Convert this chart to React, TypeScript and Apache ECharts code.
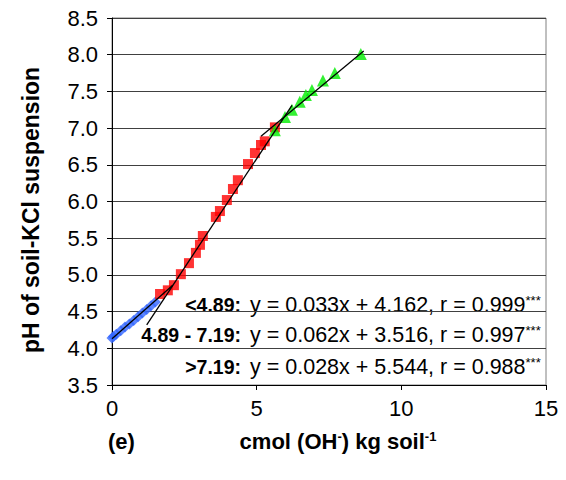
import React, { useEffect, useRef } from "react";
import * as echarts from "echarts";

// Data points: [cmol (OH-) kg soil^-1, pH]
const bluePoints: number[][] = [
  [0, 4.14], [0.05, 4.16], [0.15, 4.19], [0.3, 4.24], [0.45, 4.29], [0.6, 4.33],
  [0.75, 4.38], [0.9, 4.43], [1.05, 4.48], [1.2, 4.53], [1.35, 4.58], [1.5, 4.63],
];
const redPoints: number[][] = [
  [1.66, 4.74], [1.93, 4.79], [2.14, 4.86], [2.38, 5.01], [2.66, 5.16], [2.9, 5.3],
  [3.04, 5.41], [3.14, 5.53], [3.59, 5.79], [3.73, 5.87], [3.97, 6.02], [4.18, 6.17],
  [4.35, 6.29], [4.7, 6.51], [4.94, 6.66], [5.15, 6.77], [5.28, 6.82], [5.63, 7.01],
];
const greenPoints: number[][] = [
  [5.63, 6.97], [5.98, 7.15], [6.22, 7.25], [6.49, 7.36], [6.7, 7.45],
  [6.91, 7.52], [7.29, 7.65], [7.7, 7.75], [8.6, 8.01],
];
// Regression line end points
const blueFit: number[][] = [[0, 4.13], [2.1, 4.86]];
const redFit: number[][] = [[1.2, 4.32], [6.22, 7.31]];
const greenFit: number[][] = [[5.15, 6.89], [8.7, 8.05]];

const xTicks = { min: 0, max: 15, interval: 5 };
const yTicks = { min: 3.5, max: 8.5, interval: 0.5 };

const rangeLabels = ["<4.89:", "4.89 - 7.19:", ">7.19:"];
const equations = [
  "y = 0.033x + 4.162, r = 0.999",
  "y = 0.062x + 3.516, r = 0.997",
  "y = 0.028x + 5.544, r = 0.988",
];
const signif = ["***", "***", "***"];

const FONT = "'Liberation Sans', Arial, sans-serif";

export default function App() {
  const ref = useRef<HTMLDivElement>(null);
  useEffect(() => {
    if (!ref.current) return;
    const chart = echarts.init(ref.current, undefined, { renderer: "svg" });
    const rowY = [305, 335, 367];
    const annot: any[] = [];
    rangeLabels.forEach((t, i) => {
      annot.push({
        type: "text",
        x: 241,
        y: rowY[i],
        style: {
          text: t,
          fontFamily: FONT,
          fontSize: 19.5,
          fontWeight: "bold",
          fill: "#000",
          align: "right",
          verticalAlign: "middle",
        },
      });
      annot.push({
        type: "text",
        x: 250,
        y: rowY[i],
        style: {
          text: equations[i] + "{s|" + signif[i] + "}",
          fontFamily: FONT,
          fontSize: 21.5,
          fill: "#000",
          align: "left",
          verticalAlign: "middle",
          rich: {
            s: { fontFamily: FONT, fontSize: 13, verticalAlign: "top", fill: "#000" },
          },
        },
      });
    });
    const option: any = {
      animation: false,
      backgroundColor: "#fff",
      grid: {
        left: 112,
        right: 20,
        top: 18,
        bottom: 95,
        show: true,
        borderColor: "#808080",
        borderWidth: 1,
      },
      xAxis: {
        type: "value",
        min: xTicks.min,
        max: xTicks.max,
        interval: xTicks.interval,
        axisLine: { show: true, onZero: false, lineStyle: { color: "#000", width: 1 } },
        axisTick: { show: true, inside: false, length: 5, lineStyle: { color: "#000" } },
        axisLabel: { fontFamily: FONT, fontSize: 22, color: "#000", margin: 12 },
        splitLine: { show: false },
      },
      yAxis: {
        type: "value",
        min: yTicks.min,
        max: yTicks.max,
        interval: yTicks.interval,
        axisLine: { show: true, onZero: false, lineStyle: { color: "#000", width: 1 } },
        axisTick: { show: true, inside: false, length: 5, lineStyle: { color: "#000" } },
        axisLabel: {
          fontFamily: FONT,
          fontSize: 22,
          color: "#000",
          margin: 14,
          formatter: (v: number) => v.toFixed(1),
        },
        splitLine: { show: true, lineStyle: { color: "#404040", width: 1 } },
      },
      series: [
        {
          type: "scatter",
          data: bluePoints,
          symbol: "diamond",
          symbolSize: 11,
          itemStyle: { color: "#3366ff" },
          z: 2,
        },
        {
          type: "scatter",
          data: redPoints,
          symbol: "rect",
          symbolSize: 10,
          itemStyle: { color: "#ff0000" },
          z: 2,
        },
        {
          type: "scatter",
          data: greenPoints,
          symbol: "triangle",
          symbolSize: 12,
          itemStyle: { color: "#00ee00" },
          z: 2,
        },
        ...[blueFit, redFit, greenFit].map((d) => ({
          type: "line",
          data: d,
          symbol: "none",
          lineStyle: { color: "#000", width: 1.3 },
          z: 5,
        })),
      ],
      graphic: [
        ...annot,
        {
          type: "text",
          x: 31,
          y: 210,
          rotation: Math.PI / 2,
          style: {
            text: "pH of soil-KCl suspension",
            fontFamily: FONT,
            fontSize: 23,
            fontWeight: "bold",
            fill: "#000",
            align: "center",
            verticalAlign: "middle",
          },
        },
        {
          type: "text",
          x: 338,
          y: 441,
          style: {
            text: "cmol (OH{s|-}) kg soil{s|-1}",
            fontFamily: FONT,
            fontSize: 22,
            fontWeight: "bold",
            fill: "#000",
            align: "center",
            verticalAlign: "middle",
            rich: {
              s: { fontFamily: FONT, fontSize: 13, fontWeight: "bold", verticalAlign: "top", fill: "#000" },
            },
          },
        },
        {
          type: "text",
          x: 108,
          y: 441,
          style: {
            text: "(e)",
            fontFamily: FONT,
            fontSize: 22,
            fontWeight: "bold",
            fill: "#000",
            align: "left",
            verticalAlign: "middle",
          },
        },
      ],
    };
    chart.setOption(option);
    return () => chart.dispose();
  }, []);
  return (
    <div
      ref={ref}
      style={{ position: "absolute", left: 0, top: 0, width: 566, height: 480, background: "#fff" }}
    />
  );
}
